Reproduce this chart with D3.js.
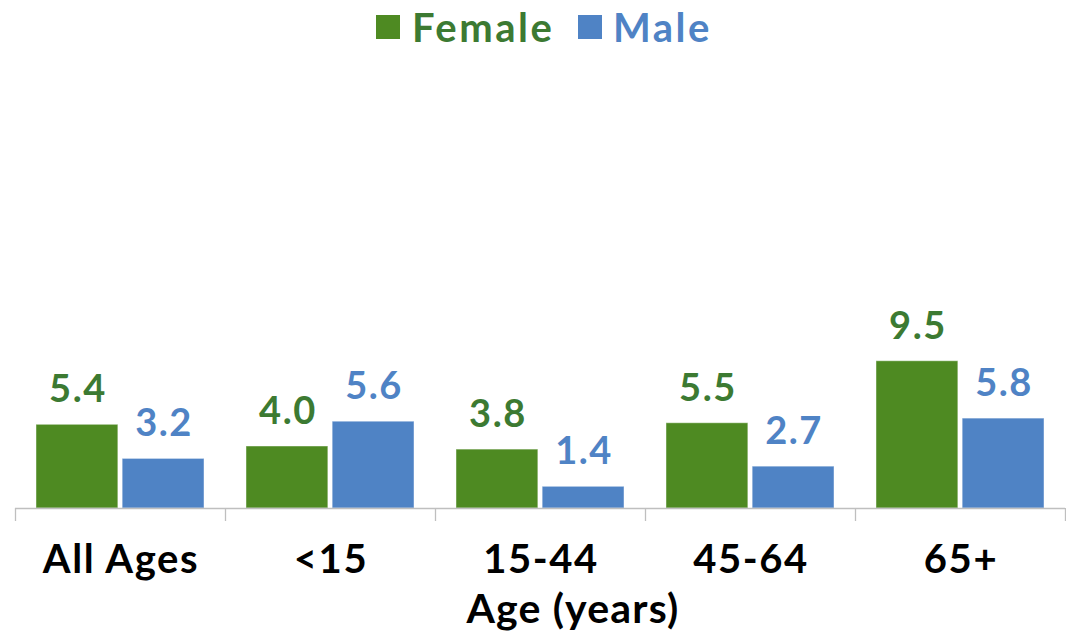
<!DOCTYPE html>
<html>
<head>
<meta charset="utf-8">
<script src="https://cdn.jsdelivr.net/npm/d3@7"></script>
<style>
  html, body { margin: 0; padding: 0; background: #ffffff; }
  svg { display: block; }
  text { font-family: Lato, "Open Sans", sans-serif; font-weight: 700; }
</style>
</head>
<body>
<svg id="chart" width="1066" height="633"></svg>
<script>
// Age groups along the x axis
const categories = ["All Ages", "<15", "15-44", "45-64", "65+"];
// Series names shown in the legend
const seriesNames = ["Female", "Male"];
// Rates per age group
const femaleValues = [5.4, 4.0, 3.8, 5.5, 9.5];
const maleValues = [3.2, 5.6, 1.4, 2.7, 5.8];
const axisTitle = "Age (years)";

const barColors = { Female: "#4e8a22", Male: "#4f83c5" };
const textColors = { Female: "#3c7a32", Male: "#4f83c5" };

const rows = categories.map((c, i) => ({
  category: c,
  values: [
    { series: "Female", value: femaleValues[i] },
    { series: "Male", value: maleValues[i] }
  ]
}));

const svg = d3.select("#chart");

const x0 = d3.scaleBand().domain(categories).range([15, 1065]).padding(0);
const x1 = d3.scaleBand().domain(seriesNames).range([21, 189]).paddingInner(0.05);
const y = d3.scaleLinear().domain([0, 30]).range([508, 43]);

// Bars
const groups = svg.append("g").selectAll("g")
  .data(rows)
  .join("g")
  .attr("transform", d => `translate(${x0(d.category)},0)`);

groups.selectAll("rect")
  .data(d => d.values)
  .join("rect")
  .attr("x", d => x1(d.series))
  .attr("y", d => y(d.value))
  .attr("width", x1.bandwidth())
  .attr("height", d => y(0) - y(d.value))
  .attr("fill", d => barColors[d.series])
  .attr("stroke", "rgba(255,255,255,0.45)")
  .attr("stroke-width", 1);

// Value labels above each bar
groups.selectAll("text.value")
  .data(d => d.values)
  .join("text")
  .attr("class", "value")
  .attr("x", d => x1(d.series) + x1.bandwidth() / 2 + 1)
  .attr("y", d => y(d.value) - 22)
  .attr("text-anchor", "middle")
  .attr("font-size", 38)
  .attr("letter-spacing", 1.5)
  .attr("fill", d => textColors[d.series])
  .text(d => d.value.toFixed(1));

// Category axis with boundary ticks
const axisG = svg.append("g");
axisG.append("line")
  .attr("x1", x0.range()[0]).attr("x2", x0.range()[1])
  .attr("y1", y(0) + 0.5).attr("y2", y(0) + 0.5)
  .attr("stroke", "#bfbfbf").attr("stroke-width", 1.3);

const boundaries = categories.map(c => x0(c)).concat([x0.range()[1]]);
axisG.selectAll("line.tick")
  .data(boundaries)
  .join("line")
  .attr("class", "tick")
  .attr("x1", d => Math.round(d) + 0.5).attr("x2", d => Math.round(d) + 0.5)
  .attr("y1", y(0)).attr("y2", y(0) + 13)
  .attr("stroke", "#bfbfbf").attr("stroke-width", 1.3);

axisG.selectAll("text.cat")
  .data(categories)
  .join("text")
  .attr("class", "cat")
  .attr("x", d => x0(d) + x0.bandwidth() / 2 + 1)
  .attr("y", 573)
  .attr("text-anchor", "middle")
  .attr("font-size", 40)
  .attr("letter-spacing", 1.6)
  .attr("fill", "#000000")
  .text(d => d);

svg.append("text")
  .attr("x", 573)
  .attr("y", 623)
  .attr("text-anchor", "middle")
  .attr("font-size", 41)
  .attr("letter-spacing", 1.2)
  .attr("fill", "#000000")
  .text(axisTitle);

// Legend
const legendItems = [
  { name: "Female", sq: 376, tx: 412 },
  { name: "Male", sq: 578, tx: 613 }
];
const legend = svg.append("g");
legend.selectAll("rect")
  .data(legendItems)
  .join("rect")
  .attr("x", d => d.sq)
  .attr("y", 15)
  .attr("width", 24)
  .attr("height", 24)
  .attr("fill", d => barColors[d.name]);
legend.selectAll("text")
  .data(legendItems)
  .join("text")
  .attr("x", d => d.tx)
  .attr("y", 42)
  .attr("font-size", 40)
  .attr("letter-spacing", 2.5)
  .attr("fill", d => textColors[d.name])
  .text(d => d.name);
</script>
</body>
</html>
